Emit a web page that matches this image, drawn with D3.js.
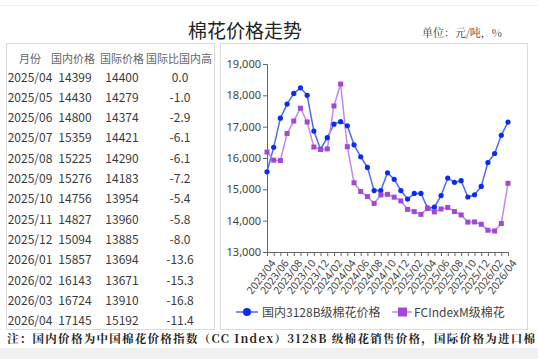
<!DOCTYPE html>
<html><head><meta charset="utf-8">
<script src="https://cdn.jsdelivr.net/npm/d3@7"></script>
<style>
body{margin:0;background:#fff;}
svg{display:block;}
text{font-family:"Noto Sans CJK SC","Noto Sans",sans-serif;}
</style></head>
<body><svg id="c" width="538" height="359"></svg>
<script>
const months = ["2023/04","2023/05","2023/06","2023/07","2023/08","2023/09","2023/10","2023/11","2023/12",
"2024/01","2024/02","2024/03","2024/04","2024/05","2024/06","2024/07","2024/08","2024/09","2024/10","2024/11","2024/12",
"2025/01","2025/02","2025/03","2025/04","2025/05","2025/06","2025/07","2025/08","2025/09","2025/10","2025/11","2025/12",
"2026/01","2026/02","2026/03","2026/04"];
const domestic = [15560,16340,17270,17720,18060,18240,18000,16860,16280,
16650,17080,17160,17030,16420,16040,15700,14960,14960,15530,15320,14960,
14690,14870,14870,14399,14430,14800,15359,15225,15276,14756,14827,15094,
15857,16143,16724,17145];
const intl = [16190,15930,15920,16780,17180,17590,17150,16350,16270,
16290,17660,18360,16360,15210,14930,14770,14550,14820,14840,14750,14630,
14360,14290,14200,14400,14279,14374,14421,14290,14183,13954,13960,13885,
13694,13671,13910,15192];
const tableMonths = months.slice(24);
const tableDomestic = domestic.slice(24);
const tableIntl = intl.slice(24);
const tableDiff = ["0.0","-1.0","-2.9","-6.1","-6.1","-7.2","-5.4","-5.8","-8.0","-13.6","-15.3","-16.8","-11.4"];
const tableHeaders = ["月份","国内价格","国际价格","国际比国内高"];
const yTicks = [13000,14000,15000,16000,17000,18000,19000];
const seriesNames = ["国内3128B级棉花价格","FCIndexM级棉花"];

const svg = d3.select("#c");
svg.append("line").attr("x1",0).attr("x2",538).attr("y1",5.5).attr("y2",5.5).attr("stroke","#eeeeee");
svg.append("text").attr("x",245).attr("y",38).attr("text-anchor","middle").attr("font-size",19).attr("fill","#222").text("棉花价格走势");
svg.append("text").attr("x",422).attr("y",37).attr("font-size",11).attr("fill","#333")
  .style("font-family","'Noto Serif CJK SC','Noto Sans CJK SC',serif").text("单位：元/吨，%");
svg.append("rect").attr("x",6.5).attr("y",43.5).attr("width",208).attr("height",286).attr("fill","none").attr("stroke","#dcdcdc");
svg.append("rect").attr("x",220.5).attr("y",43.5).attr("width",307).attr("height",286).attr("fill","none").attr("stroke","#dcdcdc");

// table
const colX = [30,73,122,179];
const tg = svg.append("g");
tableHeaders.forEach((h,i)=>{
  tg.append("text").attr("x",colX[i]).attr("y",63).attr("text-anchor","middle").attr("font-size",11).attr("fill","#666").text(h);
});
tableMonths.forEach((m,r)=>{
  const yy = 81.5 + r*20.3;
  const vals = [m, tableDomestic[r], tableIntl[r], tableDiff[r]];
  vals.forEach((v,i)=>{
    tg.append("text").attr("x",i===3?180:(i===1?75:colX[i])).attr("y",yy).attr("text-anchor","middle")
      .attr("font-size",12).attr("fill","#3a3a3a").text(v);
  });
});

// chart
const x = d3.scalePoint().domain(months).range([267,508]);
const y = d3.scaleLinear().domain([13000,19000]).range([252,64]);
const yAxis = d3.axisLeft(y).tickValues(yTicks).tickSize(4).tickPadding(2).tickFormat(d3.format(","));
const gy = svg.append("g").attr("transform","translate(267,0)").call(yAxis);
gy.select(".domain").attr("stroke","#666");
gy.selectAll(".tick line").attr("stroke","#666");
gy.selectAll("text").attr("font-size",11).attr("fill","#444").style("font-family","'Noto Sans','Liberation Sans',sans-serif");

const xAxis = d3.axisBottom(x).tickSize(4).tickSizeOuter(0).tickFormat((d,i)=> i%2===0 ? d : "");
const gx = svg.append("g").attr("transform","translate(0,252)").call(xAxis);
gx.select(".domain").attr("stroke","#666");
gx.selectAll(".tick line").attr("stroke","#666");
gx.selectAll("text").attr("font-size",10.5).attr("fill","#444").style("font-family","'Noto Sans','Liberation Sans',sans-serif")
  .attr("text-anchor","end").attr("dx",0).attr("dy",0)
  .attr("transform","translate(3,7) rotate(-53)");

const blueLine = "#4a6ee8", blueMark = "#0a2cf2";
const purpLine = "#c389ea", purpMark = "#a447d8";
const line = d3.line().x((d,i)=>x(months[i])).y(d=>y(d));
svg.append("path").datum(domestic).attr("d",line).attr("fill","none").attr("stroke",blueLine).attr("stroke-width",1.5);
svg.append("path").datum(intl).attr("d",line).attr("fill","none").attr("stroke",purpLine).attr("stroke-width",1.5);
svg.append("g").selectAll("circle").data(domestic).join("circle")
  .attr("cx",(d,i)=>x(months[i])).attr("cy",d=>y(d)).attr("r",2.6).attr("fill",blueMark);
svg.append("g").selectAll("rect").data(intl).join("rect")
  .attr("x",(d,i)=>x(months[i])-2.5).attr("y",d=>y(d)-2.5).attr("width",5).attr("height",5).attr("fill",purpMark);

// legend
const lg = svg.append("g");
lg.append("line").attr("x1",236).attr("x2",258).attr("y1",312).attr("y2",312).attr("stroke",blueLine).attr("stroke-width",1.5);
lg.append("circle").attr("cx",247).attr("cy",312).attr("r",4).attr("fill",blueMark);
lg.append("text").attr("x",262).attr("y",316.5).attr("font-size",12).attr("fill","#444").text(seriesNames[0]);
lg.append("line").attr("x1",392).attr("x2",412).attr("y1",312).attr("y2",312).attr("stroke",purpLine).attr("stroke-width",1.5);
lg.append("rect").attr("x",398).attr("y",307.5).attr("width",9).attr("height",9).attr("fill",purpMark);
lg.append("text").attr("x",414).attr("y",316.5).attr("font-size",12).attr("fill","#444").text(seriesNames[1]);

// footnote & gray band
svg.append("rect").attr("x",0).attr("y",348).attr("width",538).attr("height",11).attr("fill","#f0f0f0");
svg.append("text").attr("x",7).attr("y",343).attr("font-size",11.5).attr("font-weight","bold").attr("fill","#222")
  .attr("textLength",528).attr("lengthAdjust","spacing")
  .style("font-family","'Noto Serif CJK SC','Noto Sans CJK SC',serif")
  .text("注：国内价格为中国棉花价格指数（CC Index）3128B 级棉花销售价格，国际价格为进口棉");
</script></body></html>
